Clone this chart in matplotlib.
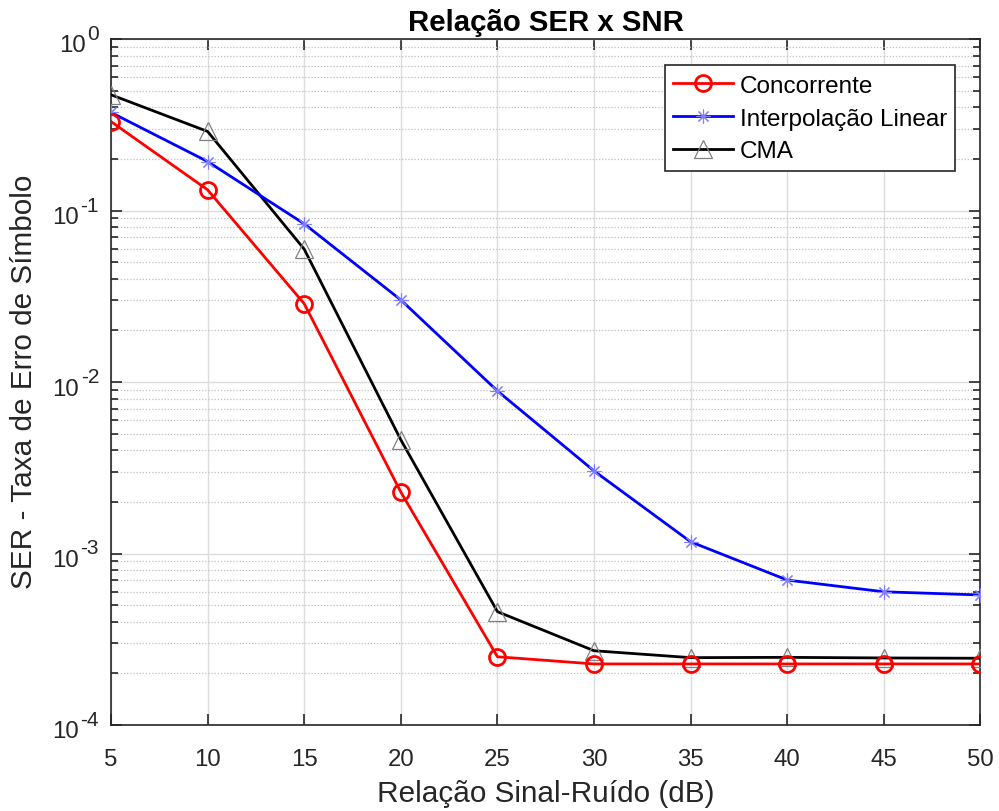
import matplotlib
matplotlib.use("Agg")
import matplotlib.pyplot as plt
from matplotlib.ticker import LogLocator, NullFormatter, FixedLocator

plt.rcParams['font.family'] = ['Liberation Sans', 'DejaVu Sans']

snr = [5, 10, 15, 20, 25, 30, 35, 40, 45, 50]
ser_concorrente = [0.33, 0.132, 0.0286, 0.00228, 2.50e-4, 2.27e-4, 2.27e-4, 2.27e-4, 2.27e-4, 2.27e-4]
ser_interp = [0.373, 0.193, 0.0836, 0.0301, 0.00887, 0.00303, 0.00117, 7.0e-4, 5.98e-4, 5.73e-4]
ser_cma = [0.473, 0.289, 0.0595, 0.0046, 4.58e-4, 2.71e-4, 2.47e-4, 2.48e-4, 2.46e-4, 2.45e-4]
y_exponents = [-4, -3, -2, -1, 0]

TXT = '#262626'
fig = plt.figure(figsize=(9.99, 8.11), dpi=100)
ax = fig.add_axes([111/999, 1-725/811, (980.5-111)/999, (725-39)/811])

red_kw = dict(color='#ff0000', lw=2, marker='o', ms=11.5, mfc='none', mec='#ff0000', mew=2)
blue_kw = dict(color='#0000ff', lw=2, marker=(8, 2, 0), ms=10, mec='#8080ff', mew=0.8)
black_kw = dict(color='black', lw=2, marker='^', ms=12.5, mfc='none', mec='#808080', mew=0.9)

ax.semilogy(snr, ser_concorrente, zorder=5, **red_kw)
ax.semilogy(snr, ser_interp, color='#0000ff', lw=2, zorder=4)
ax.semilogy(snr, ser_interp, lw=0, marker=(8, 2, 0), ms=10, mec='#8080ff', mew=0.8, zorder=4.5)
ax.semilogy(snr, ser_cma, zorder=3, **black_kw)

ax.set_xlim(5, 50)
ax.set_ylim(1e-4, 1)
ax.xaxis.set_major_locator(FixedLocator(snr))
ax.yaxis.set_major_locator(FixedLocator([10.0**e for e in y_exponents]))
ax.yaxis.set_minor_locator(LogLocator(base=10, subs=range(2, 10), numticks=20))
ax.yaxis.set_minor_formatter(NullFormatter())

ax.grid(True, which='major', color='#dcdcdc', lw=1, ls='-')
ax.grid(True, which='minor', axis='y', color='#c0c0c0', lw=0.9, ls=(0, (1, 1.5)))
ax.set_axisbelow(True)

for s in ax.spines.values():
    s.set_color(TXT)
    s.set_linewidth(1.2)
ax.tick_params(which='both', direction='in', top=True, right=True,
               colors=TXT, labelsize=17.3, labelcolor=TXT, width=1.2)
ax.tick_params(axis='x', which='major', length=8, pad=17)
ax.tick_params(axis='y', which='major', length=8, labelleft=False)
ax.tick_params(which='minor', length=5)

# y tick labels in MATLAB style: "10" with large superscript exponent
fig.canvas.draw()
renderer = fig.canvas.get_renderer()
for e in y_exponents:
    sup = ax.annotate('%d' % e, xy=(0, 10.0**e), xycoords=('axes fraction', 'data'),
                      xytext=(-12, -1), textcoords='offset pixels',
                      ha='right', va='baseline', fontsize=15, color=TXT)
    w = sup.get_window_extent(renderer).width
    ax.annotate('10', xy=(0, 10.0**e), xycoords=('axes fraction', 'data'),
                xytext=(-12 - w - 1.5, -13.5), textcoords='offset pixels',
                ha='right', va='baseline', fontsize=17.3, color=TXT)

ax.set_xlabel('Relação Sinal-Ruído (dB)', fontsize=21.4, color=TXT, va='top')
ax.xaxis.set_label_coords(0.5, -(780 - 725) / 686)
ax.set_ylabel('SER - Taxa de Erro de Símbolo', fontsize=21.4, color=TXT)
ax.yaxis.set_label_coords(-(111 - 38) / 869.5, 0.5)
ax.set_title('Relação SER x SNR', fontsize=21.2, fontweight='bold', pad=6)

h1, = ax.plot([], [], **red_kw)
h2, = ax.plot([], [], **blue_kw)
h3, = ax.plot([], [], **black_kw)
leg = ax.legend([h1, h2, h3], ['Concorrente', 'Interpolação Linear', 'CMA'],
                loc='upper right', bbox_to_anchor=(0.9707, 0.9621), fontsize=17.5,
                frameon=True, fancybox=False, edgecolor=TXT, framealpha=1,
                handlelength=2.47, handletextpad=0.27, borderpad=0.33,
                handleheight=1.06, labelspacing=0.34, borderaxespad=0)
leg.get_frame().set_linewidth(1.2)

fig.savefig('out.png', dpi=100)
